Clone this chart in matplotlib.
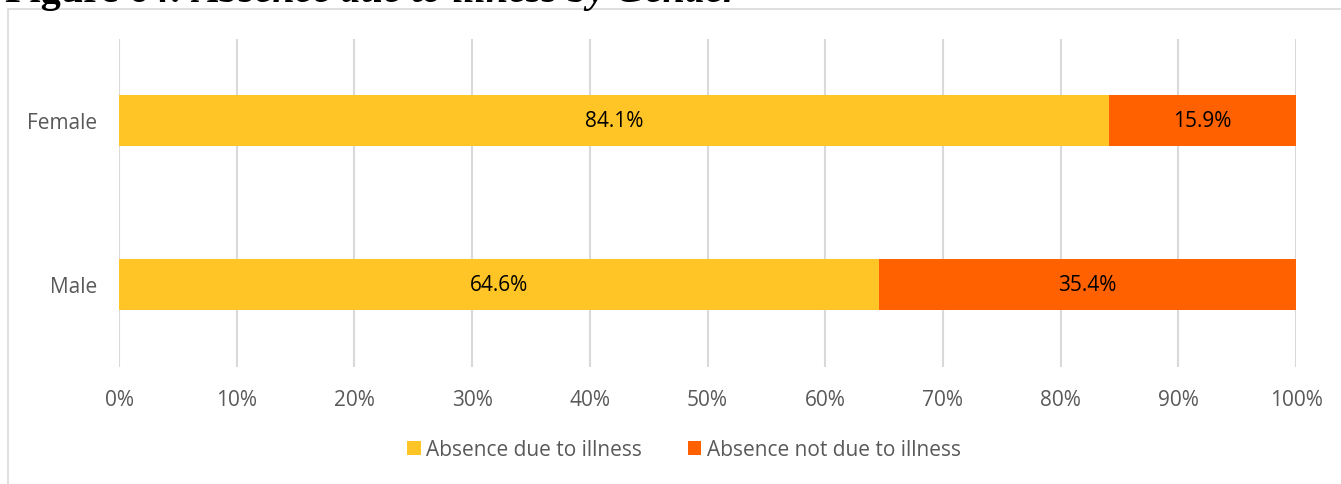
import matplotlib
matplotlib.use("Agg")
import matplotlib.pyplot as plt
from matplotlib.patches import Rectangle
from matplotlib.ticker import PercentFormatter

categories = ["Male", "Female"]
due_to_illness = [64.6, 84.1]
not_due_to_illness = [35.4, 15.9]
series_names = ["Absence due to illness", "Absence not due to illness"]
colors = ["#FFC425", "#FF6100"]
xticks = list(range(0, 101, 10))

plt.rcParams['font.family'] = ['Open Sans', 'DejaVu Sans']
FS = 15

W, H = 1341, 485
fig = plt.figure(figsize=(W / 100, H / 100), dpi=100)

# outer frame
fig.patches.append(Rectangle((8 / W, -0.1), 1.2, (H - 10) / H + 0.1,
                             transform=fig.transFigure, fill=False,
                             edgecolor="#D9D9D9", linewidth=1.2))

# cut-off title
t1 = fig.text(5 / W, 1 - 2 / H, "Figure 64: ", family="Liberation Serif",
              fontweight="bold", fontsize=29, va="baseline", ha="left", color="black")
fig.canvas.draw()
bb = t1.get_window_extent(renderer=fig.canvas.get_renderer())
fig.text(bb.x1 / W, 1 - 2 / H, "Absence due to illness by Gender", family="Liberation Serif",
         fontweight="bold", fontstyle="italic", fontsize=29, va="baseline", ha="left", color="black")

ax = fig.add_axes([119 / W, 1 - 367.5 / H, (1296 - 119) / W, (367.5 - 39.5) / H])
y = list(range(len(categories)))
h = 0.31
b1 = ax.barh(y, due_to_illness, height=h, color=colors[0], label=series_names[0], zorder=3)
b2 = ax.barh(y, not_due_to_illness, left=due_to_illness, height=h, color=colors[1],
             label=series_names[1], zorder=3)
for bars, vals in ((b1, due_to_illness), (b2, not_due_to_illness)):
    ax.bar_label(bars, labels=[f"{v:.1f}%" for v in vals], label_type="center",
                 fontsize=FS, color="black")

ax.set_xlim(0, 100)
ax.set_ylim(-0.5, 1.5)
ax.set_xticks(xticks)
ax.xaxis.set_major_formatter(PercentFormatter(decimals=0))
ax.set_yticks(y)
ax.set_yticklabels(categories)
ax.tick_params(axis="both", length=0, labelsize=FS, labelcolor="#595959")
ax.tick_params(axis="x", pad=16)
ax.tick_params(axis="y", pad=16)
ax.grid(axis="x", color="#D9D9D9", linewidth=1.5, zorder=0)
for s in ax.spines.values():
    s.set_visible(False)

fig.legend(handles=[b1, b2], labels=series_names, loc="center",
           bbox_to_anchor=(684 / W, 1 - 451 / H), ncol=2, frameon=False,
           fontsize=FS, labelcolor="#595959", handlelength=0.65, handleheight=0.65,
           handletextpad=0.25, columnspacing=2.2)

fig.savefig("out.png", dpi=100)
